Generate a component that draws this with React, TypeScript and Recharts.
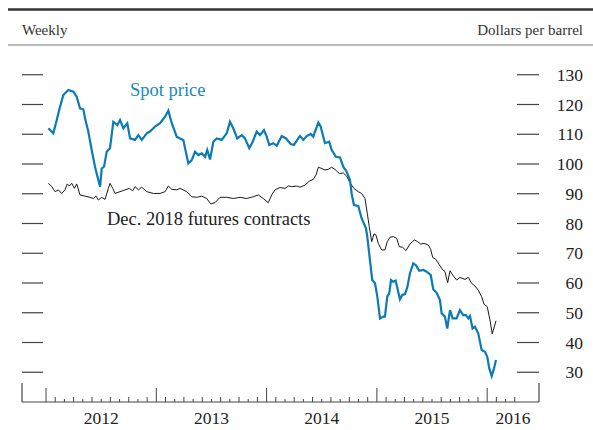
import React from 'react';
import { LineChart, Line, XAxis, YAxis } from 'recharts';

// Time in fractional years, values in dollars per barrel
const spotWeeks = [
  2012.021, 2012.066, 2012.097, 2012.127, 2012.157, 2012.202, 2012.248, 2012.278, 2012.308, 2012.338,
  2012.354, 2012.383, 2012.414, 2012.444, 2012.474, 2012.490, 2012.505, 2012.526, 2012.550, 2012.580,
  2012.610, 2012.646, 2012.671, 2012.701, 2012.737, 2012.762, 2012.807, 2012.837, 2012.868, 2012.913,
  2012.943, 2012.988, 2013.034, 2013.079, 2013.109, 2013.140, 2013.185, 2013.215, 2013.245, 2013.290,
  2013.321, 2013.351, 2013.381, 2013.412, 2013.442, 2013.462, 2013.487, 2013.517, 2013.548, 2013.593,
  2013.638, 2013.668, 2013.698, 2013.734, 2013.774, 2013.804, 2013.843, 2013.874, 2013.910, 2013.940,
  2013.976, 2014.001, 2014.024, 2014.061, 2014.092, 2014.137, 2014.176, 2014.218, 2014.248, 2014.287,
  2014.303, 2014.333, 2014.364, 2014.400, 2014.423, 2014.469, 2014.490, 2014.529, 2014.568, 2014.590,
  2014.629, 2014.665, 2014.695, 2014.726, 2014.756, 2014.771, 2014.792, 2014.831, 2014.862, 2014.901,
  2014.913, 2014.937, 2014.958, 2014.983, 2015.004, 2015.028, 2015.058, 2015.073, 2015.094, 2015.112,
  2015.128, 2015.149, 2015.170, 2015.209, 2015.230, 2015.255, 2015.276, 2015.300, 2015.330, 2015.354,
  2015.384, 2015.421, 2015.451, 2015.488, 2015.511, 2015.542, 2015.572, 2015.587, 2015.617, 2015.638,
  2015.663, 2015.687, 2015.723, 2015.753, 2015.783, 2015.808, 2015.829, 2015.844, 2015.868, 2015.889,
  2015.919, 2015.950, 2015.980, 2016.001, 2016.019, 2016.041, 2016.062, 2016.080,
];
const spotPrice = [
  112.0, 110.3, 114.8, 119.3, 123.2, 124.9, 124.3, 122.6, 118.7, 118.4,
  115.3, 110.9, 104.7, 99.1, 94.6, 92.4, 98.5, 99.1, 104.1, 105.3,
  114.2, 113.1, 114.8, 112.0, 113.7, 108.6, 108.1, 109.7, 108.1, 110.3,
  110.9, 112.6, 113.7, 115.9, 117.9, 113.7, 109.2, 108.6, 108.1, 100.2,
  101.3, 104.1, 103.0, 103.6, 102.4, 104.7, 101.5, 107.5, 108.6, 108.1,
  110.3, 114.2, 112.0, 108.6, 109.7, 108.6, 105.3, 107.5, 110.9, 109.7,
  111.4, 109.2, 106.4, 107.0, 106.1, 109.4, 108.6, 106.7, 106.4, 108.6,
  109.4, 108.1, 109.4, 110.1, 109.2, 113.9, 112.6, 107.0, 107.5, 104.7,
  102.4, 102.2, 99.1, 97.4, 94.6, 90.1, 86.2, 85.9, 81.7, 78.4,
  75.6, 67.7, 61.0, 59.9, 55.4, 48.1, 48.7, 48.7, 55.4, 56.5,
  61.0, 60.4, 60.8, 54.5, 56.0, 56.3, 58.6, 63.3, 66.6, 66.0,
  64.1, 64.4, 63.8, 62.7, 57.9, 56.7, 54.3, 49.8, 48.7, 44.7,
  50.9, 48.1, 48.1, 50.9, 49.2, 49.2, 48.1, 48.9, 44.7, 45.3,
  43.1, 37.5, 36.9, 35.2, 31.3, 28.7, 31.3, 34.1,
];

const futuresWeeks = [
  2012.021, 2012.052, 2012.082, 2012.112, 2012.142, 2012.172, 2012.193, 2012.211, 2012.233, 2012.257,
  2012.278, 2012.308, 2012.354, 2012.399, 2012.429, 2012.453, 2012.474, 2012.505, 2012.535, 2012.565,
  2012.580, 2012.605, 2012.626, 2012.671, 2012.716, 2012.755, 2012.786, 2012.807, 2012.837, 2012.868,
  2012.913, 2012.973, 2013.034, 2013.079, 2013.109, 2013.140, 2013.185, 2013.215, 2013.276, 2013.321,
  2013.366, 2013.412, 2013.457, 2013.493, 2013.532, 2013.578, 2013.638, 2013.698, 2013.759, 2013.820,
  2013.879, 2013.925, 2013.970, 2014.015, 2014.046, 2014.076, 2014.121, 2014.167, 2014.197, 2014.228,
  2014.273, 2014.303, 2014.348, 2014.393, 2014.423, 2014.448, 2014.469, 2014.500, 2014.529, 2014.559,
  2014.590, 2014.620, 2014.659, 2014.695, 2014.726, 2014.756, 2014.792, 2014.831, 2014.862, 2014.892,
  2014.913, 2014.931, 2014.953, 2014.974, 2014.992, 2015.013, 2015.043, 2015.073, 2015.094, 2015.119,
  2015.149, 2015.180, 2015.203, 2015.234, 2015.264, 2015.300, 2015.339, 2015.370, 2015.397, 2015.427,
  2015.466, 2015.488, 2015.506, 2015.536, 2015.566, 2015.597, 2015.617, 2015.642, 2015.663, 2015.687,
  2015.723, 2015.753, 2015.799, 2015.829, 2015.859, 2015.889, 2015.919, 2015.950, 2015.971, 2016.001,
  2016.025, 2016.046, 2016.080,
];
const futuresPrice = [
  93.5, 92.4, 90.7, 91.3, 90.1, 91.3, 93.3, 92.6, 93.5, 91.8,
  93.3, 89.6, 89.2, 88.8, 88.4, 89.2, 87.9, 88.8, 88.1, 91.8,
  93.5, 91.8, 90.1, 90.7, 91.3, 91.8, 91.0, 92.4, 91.3, 92.2,
  90.7, 90.1, 90.1, 90.7, 92.6, 91.5, 91.3, 91.8, 90.7, 89.0,
  88.8, 89.2, 88.4, 86.6, 87.0, 88.8, 88.8, 88.4, 88.8, 88.4,
  89.0, 89.6, 88.4, 87.0, 89.6, 91.3, 92.1, 91.8, 92.6, 92.4,
  92.6, 92.2, 92.9, 94.4, 94.8, 96.3, 98.9, 98.5, 98.0, 98.2,
  98.9, 98.2, 96.8, 97.0, 95.9, 93.7, 91.8, 90.7, 90.1, 88.4,
  83.4, 78.9, 73.9, 76.5, 76.1, 73.3, 71.1, 71.1, 73.9, 75.4,
  75.6, 75.0, 72.2, 72.0, 70.9, 73.1, 74.5, 73.9, 73.1, 73.3,
  72.8, 71.3, 68.6, 67.9, 66.1, 64.4, 63.8, 60.1, 64.1, 62.7,
  61.0, 61.9, 61.2, 61.9, 59.9, 59.0, 57.6, 55.4, 52.9, 52.0,
  47.6, 42.9, 47.3,
];

const yTicks = [30, 40, 50, 60, 70, 80, 90, 100, 110, 120, 130];
const yearLabels = ['2012', '2013', '2014', '2015', '2016'];
const X_MIN = 2011.782;
const X_MAX = 2016.47;
const LAST_MONTH_TICK = 2016 + 3 / 12;

const spotData = spotWeeks.map((t, i) => ({ t, v: spotPrice[i] }));
const futuresData = futuresWeeks.map((t, i) => ({ t, v: futuresPrice[i] }));

// x-axis ticks: domain ends, monthly ticks, label positions
const monthTicks: number[] = [];
for (let y = 2012; y <= 2016; y++) {
  for (let m = 0; m < 12; m++) {
    const v = y + m / 12;
    if (v <= LAST_MONTH_TICK + 1e-6) monthTicks.push(+v.toFixed(5));
  }
}
const label2016Pos = (2016 + X_MAX) / 2;
const xTicks = [X_MIN, ...monthTicks, label2016Pos, X_MAX];

const FONT = '"Liberation Serif", "Times New Roman", Times, serif';
const BLUE = '#0a7bb5';
const W = 593;
const H = 430;
const PLOT_LEFT = 22;
const PLOT_RIGHT = 539;
const PLOT_BOTTOM = 402;
const AXIS_COLOR = '#444';

const XTick = (props: any) => {
  const { x, payload } = props;
  const v: number = payload.value;
  const els: React.ReactNode[] = [];
  if (Math.abs(v - X_MIN) < 1e-6 || Math.abs(v - X_MAX) < 1e-6) {
    els.push(<line key="e" x1={x} x2={x} y1={PLOT_BOTTOM} y2={PLOT_BOTTOM - 19} stroke={AXIS_COLOR} strokeWidth={1.2} />);
  } else if (Math.abs(v - label2016Pos) < 1e-6) {
    els.push(
      <text key="l" x={x} y={PLOT_BOTTOM + 22} textAnchor="middle" fontFamily={FONT} fontSize={17.5} fill="#222">
        {yearLabels[4]}
      </text>
    );
  } else {
    const monthIdx = Math.round((v - Math.floor(v + 1e-6)) * 12);
    const year = Math.floor(v + 1e-6);
    const h = monthIdx === 0 ? 14 : monthIdx % 2 === 1 ? 5 : 3;
    els.push(<line key="t" x1={x} x2={x} y1={PLOT_BOTTOM} y2={PLOT_BOTTOM - h} stroke={AXIS_COLOR} strokeWidth={1} />);
    if (monthIdx === 6) {
      const idx = year - 2012;
      els.push(
        <text key="l" x={x} y={PLOT_BOTTOM + 22} textAnchor="middle" fontFamily={FONT} fontSize={17.5} fill="#222">
          {yearLabels[idx]}
        </text>
      );
    }
  }
  return <g>{els}</g>;
};

const YTick = (props: any) => {
  const { y, payload } = props;
  return (
    <g>
      <line x1={PLOT_LEFT} x2={PLOT_LEFT + 21} y1={y} y2={y} stroke={AXIS_COLOR} strokeWidth={1.2} />
      <line x1={PLOT_RIGHT - 22} x2={PLOT_RIGHT} y1={y} y2={y} stroke={AXIS_COLOR} strokeWidth={1.2} />
      <text x={583} y={y + 6} textAnchor="end" fontFamily={FONT} fontSize={17.5} fill="#222">
        {payload.value}
      </text>
    </g>
  );
};

export default function App() {
  return (
    <div style={{ position: 'absolute', left: 0, top: 0, width: W, height: H, background: '#fff' }}>
      <LineChart width={W} height={H} margin={{ top: 45, right: 0, bottom: 0, left: PLOT_LEFT }}>
        <XAxis
          dataKey="t"
          type="number"
          domain={[X_MIN, X_MAX]}
          allowDataOverflow
          ticks={xTicks}
          interval={0}
          height={28}
          tickLine={false}
          axisLine={{ stroke: AXIS_COLOR, strokeWidth: 1.2 }}
          tick={<XTick />}
        />
        <YAxis
          orientation="right"
          type="number"
          domain={[20, 140]}
          ticks={yTicks}
          interval={0}
          width={54}
          tickLine={false}
          axisLine={false}
          tick={<YTick />}
        />
        <Line data={futuresData} dataKey="v" stroke="#1a1a1a" strokeWidth={1} dot={false} isAnimationActive={false} />
        <Line data={spotData} dataKey="v" stroke={BLUE} strokeWidth={2.2} dot={false} isAnimationActive={false} />
      </LineChart>
      <svg width={W} height={H} style={{ position: 'absolute', left: 0, top: 0, pointerEvents: 'none' }}>
        <line x1={8} x2={W} y1={9.5} y2={9.5} stroke="#333" strokeWidth={2.5} />
        <line x1={8} x2={W} y1={45} y2={45} stroke="#777" strokeWidth={1} />
        <text x={22} y={35} fontFamily={FONT} fontSize={15} fill="#333">Weekly</text>
        <text x={583} y={35} textAnchor="end" fontFamily={FONT} fontSize={15} fill="#333">Dollars per barrel</text>
        <text x={130} y={96} fontFamily={FONT} fontSize={18.5} fill="#1a88c0">Spot price</text>
        <text x={107} y={225} fontFamily={FONT} fontSize={18.5} fill="#222">Dec. 2018 futures contracts</text>
      </svg>
    </div>
  );
}
